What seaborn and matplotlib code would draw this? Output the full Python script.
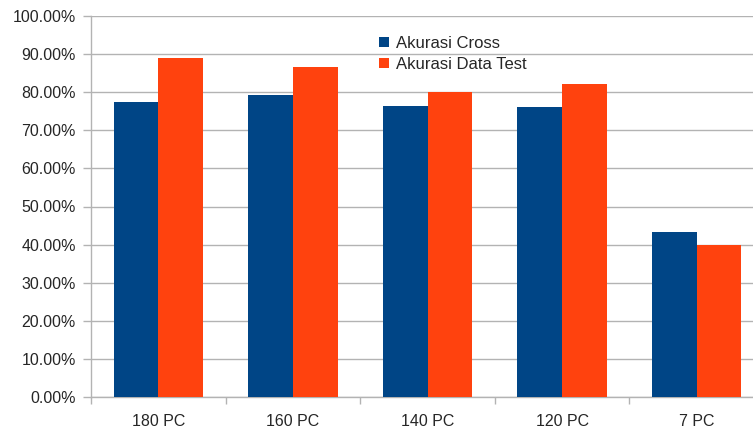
"""
Bar chart of cross-validation vs test accuracy for different PC counts.
"""

import pandas as pd
import seaborn as sns
import matplotlib.pyplot as plt
from matplotlib.ticker import FuncFormatter, FixedLocator

# Data
CATEGORIES = ["180 PC", "160 PC", "140 PC", "120 PC", "7 PC"]
AKURASI_CROSS = [77.4, 79.2, 76.3, 76.2, 43.4]
AKURASI_TEST = [88.9, 86.7, 80.0, 82.2, 40.0]
SERIES = ["Akurasi Cross", "Akurasi Data Test"]
COLORS = ["#004586", "#ff420e"]
Y_TICKS = list(range(0, 101, 10))

GRID = "#b3b3b3"
TEXT = "#262626"


def build_frame():
    """Long-form table for seaborn."""
    rows = []
    for cat, a, b in zip(CATEGORIES, AKURASI_CROSS, AKURASI_TEST):
        rows.append({"pc": cat, "series": SERIES[0], "value": a})
        rows.append({"pc": cat, "series": SERIES[1], "value": b})
    return pd.DataFrame(rows)


def main():
    sns.set_style("white")
    plt.rcParams["font.family"] = ["Liberation Sans", "DejaVu Sans"]

    df = build_frame()
    fig = plt.figure(figsize=(7.53, 4.30), dpi=100)
    ax = fig.add_axes([91 / 753, 1 - 397 / 430, 673 / 753, 381 / 430])

    sns.barplot(
        data=df,
        x="pc",
        y="value",
        hue="series",
        hue_order=SERIES,
        palette=COLORS,
        width=0.664,
        gap=0,
        saturation=1,
        linewidth=0,
        ax=ax,
        zorder=3,
    )

    ax.set_xlim(-0.5, len(CATEGORIES) - 0.5)
    ax.set_ylim(0, 100)
    ax.set_yticks(Y_TICKS)
    ax.yaxis.set_major_formatter(FuncFormatter(lambda v, _: f"{v:.2f}%"))
    ax.yaxis.grid(True, color=GRID, linewidth=1, zorder=0)
    ax.set_axisbelow(True)
    ax.set_xlabel("")
    ax.set_ylabel("")

    # spines
    for side in ["top", "right"]:
        ax.spines[side].set_visible(False)
    for side in ["left", "bottom"]:
        ax.spines[side].set_color(GRID)
        ax.spines[side].set_linewidth(1)

    # ticks
    ax.tick_params(axis="y", direction="out", length=6, width=1, color=GRID,
                   pad=5, labelsize=11.5, labelcolor=TEXT, left=True)
    ax.tick_params(axis="x", which="major", length=0, pad=12,
                   labelsize=11.5, labelcolor=TEXT)
    ax.xaxis.set_minor_locator(
        FixedLocator([i - 0.5 for i in range(len(CATEGORIES) + 1)])
    )
    ax.tick_params(axis="x", which="minor", direction="out", length=5,
                   width=1, color=GRID, bottom=True)

    # legend
    ax.legend(
        loc="upper left",
        bbox_to_anchor=(364 / 753, 1 - 21 / 430),
        bbox_transform=fig.transFigure,
        frameon=False,
        fontsize=12,
        handlelength=0.6,
        handleheight=0.6,
        handletextpad=0.45,
        labelspacing=0.35,
        labelcolor=TEXT,
    )

    fig.savefig("out.png", dpi=100)
    plt.close(fig)


if __name__ == "__main__":
    main()
